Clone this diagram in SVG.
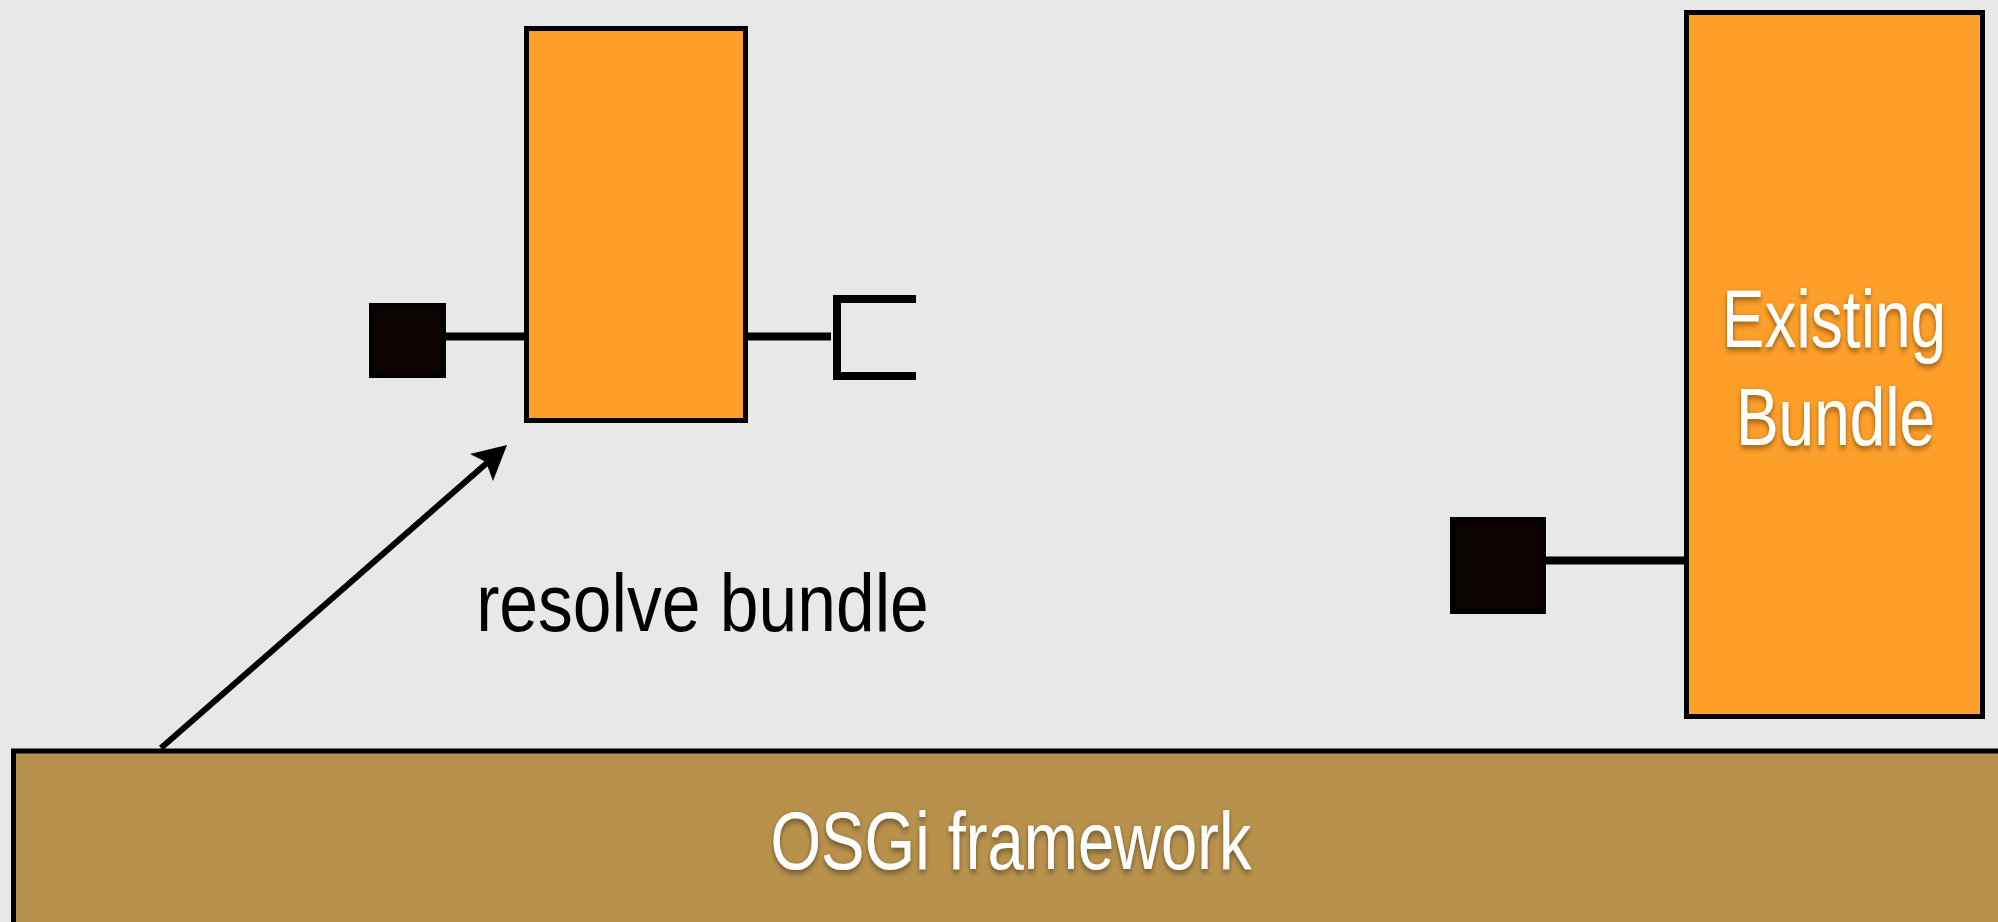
<svg xmlns="http://www.w3.org/2000/svg" width="1998" height="922" viewBox="0 0 1998 922">
  <defs>
    <style>
      .bundle { fill: #fe9f29; stroke: #000; stroke-width: 5; }
      .framework { fill: #b8924c; stroke: #000; stroke-width: 5; }
      .port { fill: #0a0300; stroke: #000; stroke-width: 5; }
      .wire { fill: none; stroke: #000; stroke-width: 8; }
      .arrow { fill: none; stroke: #000; stroke-width: 6; }
      .label { font-family: "Liberation Sans", Arial, sans-serif; font-size: 81px; text-anchor: middle; }
      .white { fill: #fff; filter: url(#textShadow); }
      .dark { fill: #000; }
    </style>
    <filter id="textShadow" x="-10%" y="-30%" width="120%" height="160%">
      <feDropShadow dx="0" dy="3" stdDeviation="3" flood-color="#000" flood-opacity="0.45"/>
    </filter>
  </defs>

  <rect x="0" y="0" width="1998" height="922" fill="#e8e8e8"/>

  <!-- framework base -->
  <g id="osgi-framework">
    <rect class="framework" x="13.5" y="751" width="2010" height="200"/>
    <text class="label white" transform="translate(1011,869) scale(0.79,1)" x="0" y="0" textLength="609" lengthAdjust="spacingAndGlyphs">OSGi framework</text>
  </g>

  <!-- new bundle being resolved -->
  <g id="new-bundle">
    <rect class="bundle" x="526.5" y="28.5" width="219" height="392"/>
  </g>

  <g id="new-bundle-export">
    <rect class="port" x="371.5" y="305.5" width="72" height="70"/>
  </g>

  <g id="new-bundle-import">
    <polyline class="wire" points="916,299 837,299 837,376 916,376"/>
  </g>

  <!-- existing bundle -->
  <g id="existing-bundle">
    <rect class="bundle" x="1686.5" y="12.5" width="296" height="704"/>
    <text class="label white" transform="translate(1834,347) scale(0.79,1)" x="0" y="0" textLength="284" lengthAdjust="spacingAndGlyphs">Existing</text>
    <text class="label white" transform="translate(1835.5,445) scale(0.79,1)" x="0" y="0" textLength="252" lengthAdjust="spacingAndGlyphs">Bundle</text>
  </g>

  <g id="existing-bundle-export">
    <rect class="port" x="1452.5" y="519.5" width="91" height="92"/>
  </g>

  <!-- connectors -->
  <g id="connectors">
    <line class="wire" x1="446" y1="336.5" x2="526" y2="336.5"/>
    <line class="wire" x1="748" y1="336.5" x2="831" y2="336.5"/>
    <line class="wire" x1="1545" y1="560.5" x2="1686" y2="560.5"/>
    <line class="arrow" x1="161" y1="748" x2="488" y2="462"/>
    <polygon points="507,445 470,454 486,462 493,481" fill="#000"/>
  </g>

  <text class="label dark" transform="translate(702.5,631) scale(0.79,1)" x="0" y="0" textLength="573" lengthAdjust="spacingAndGlyphs">resolve bundle</text>
</svg>
